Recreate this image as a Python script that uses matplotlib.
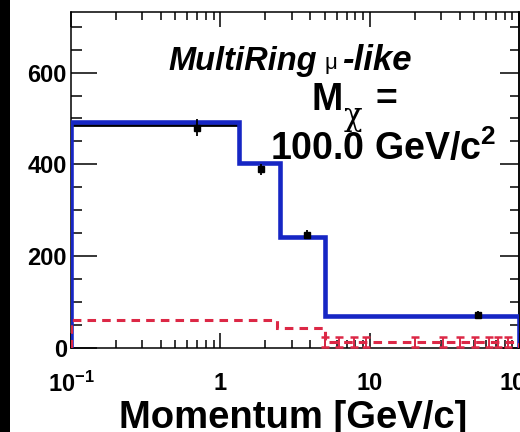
import matplotlib
matplotlib.use("Agg")
import matplotlib.pyplot as plt
from matplotlib.patches import Rectangle
from matplotlib.ticker import FixedLocator, LogLocator, MultipleLocator, NullFormatter

plt.rcParams['font.family'] = ['Liberation Sans', 'DejaVu Sans']
plt.rcParams['mathtext.fontset'] = 'custom'
plt.rcParams['mathtext.rm'] = 'Liberation Sans:bold'
plt.rcParams['mathtext.bf'] = 'Liberation Sans:bold'
plt.rcParams['mathtext.it'] = 'Liberation Sans:italic:bold'

# ---- data ----
bin_edges = [0.1, 1.33, 2.5, 5.0, 100.0]
blue_total = [493, 403, 242, 70]
black_bkg = [486, 403, 241, 69]
red_signal = [60, 44, 13]
red_edges = [0.1, 2.4, 5.0, 100.0]
data_x = [0.70, 1.88, 3.8, 53.0]
data_y = [480, 389, 247, 72]
data_err = [18, 12, 10, 8]
red_err_x = [5.0, 6.2, 7.8, 9.4, 20.0, 31.0, 40.0, 51.0, 63.0, 72.0, 84.0]
red_err_y = [13, 13, 13, 13, 13, 13, 13, 13, 13, 13, 13]
red_err = [10, 10, 10, 10, 10, 10, 10, 10, 10, 10, 10]
xtick_vals = [0.1, 1, 10, 100]
xtick_labels = [r'10$^{-1}$', '1', '10', '100']
ytick_vals = [0, 200, 400, 600]
ytick_labels = ['0', '200', '400', '600']

W, H = 520, 432
fig = plt.figure(figsize=(W / 100, H / 100), dpi=100)
fig.patch.set_facecolor('white')
fig.patches.append(Rectangle((0, 0), 10 / W, 1, transform=fig.transFigure,
                             facecolor='black', edgecolor='none', zorder=0))

ax = fig.add_axes([71 / W, 84 / H, 448 / W, 336 / H])
ax.set_xscale('log')
ax.set_xlim(0.1, 100)
ax.set_ylim(0, 732)

blue = '#1626c4'
red = '#dc2846'

ax.stairs(black_bkg, bin_edges, baseline=0, color='black', linewidth=2.0, zorder=2)
ax.stairs(blue_total, bin_edges, baseline=0, color=blue, linewidth=3.3, zorder=3)
ax.stairs(red_signal, red_edges, baseline=0, color=red, linewidth=2.2,
          linestyle=(0, (2.8, 2.0)), zorder=4)
ax.errorbar(red_err_x, red_err_y, yerr=red_err, fmt='none', ecolor=red,
            elinewidth=1.4, capsize=3, capthick=1.8, zorder=4)
ax.errorbar(data_x, data_y, yerr=data_err, fmt='s', color='black', markersize=4,
            elinewidth=1.3, capsize=0, zorder=5)

# ticks
ax.xaxis.set_major_locator(FixedLocator(xtick_vals))
ax.set_xticklabels(xtick_labels)
ax.xaxis.set_minor_locator(LogLocator(base=10, subs=range(2, 10), numticks=20))
ax.xaxis.set_minor_formatter(NullFormatter())
ax.set_yticks(ytick_vals)
ax.set_yticklabels(ytick_labels)
ax.yaxis.set_minor_locator(MultipleLocator(50))

ax.tick_params(axis='x', which='major', direction='in', top=True, length=11,
               width=1.1, pad=17, labelsize=17)
ax.tick_params(axis='x', which='minor', direction='in', top=True, length=5.5, width=1.1)
ax.tick_params(axis='y', which='major', direction='in', right=False, length=18.5,
               width=1.1, pad=3, labelsize=17)
ax.tick_params(axis='y', which='minor', direction='in', right=False, length=8, width=1.1)
for lab in ax.get_xticklabels() + ax.get_yticklabels():
    lab.set_fontweight('bold')

sec = ax.secondary_yaxis('right')
sec.set_yticks(ytick_vals)
sec.yaxis.set_minor_locator(MultipleLocator(50))
sec.tick_params(axis='y', which='major', direction='in', length=13.5, width=1.1, labelright=False)
sec.tick_params(axis='y', which='minor', direction='in', length=6.5, width=1.1)
sec.spines['right'].set_linewidth(1.1)

for sp in ax.spines.values():
    sp.set_linewidth(1.1)


def ax_xy(px, py):
    # convert reference pixel coordinates (from top-left) to axes fraction
    return (px - 71) / 448, (348 - py) / 336


# texts
x0, yb = ax_xy(168, 70)
ax.text(x0, yb, 'MultiRing', transform=ax.transAxes, ha='left', va='baseline',
        fontsize=23.5, fontweight='bold', fontstyle='italic')
xm, ym = ax_xy(324, 69)
ax.text(xm, ym, 'μ', transform=ax.transAxes, ha='left', va='baseline',
        fontsize=16, fontweight='normal')
xl, yl = ax_xy(342, 70)
ax.text(xl, yl, '-like', transform=ax.transAxes, ha='left', va='baseline',
        fontsize=25, fontweight='bold', fontstyle='italic')

x1, y1 = ax_xy(327, 110)
ax.text(x1, y1, 'M', transform=ax.transAxes, ha='center', va='baseline',
        fontsize=27, fontweight='bold')
x2, y2 = ax_xy(353, 125)
ax.text(x2, y2, 'χ', transform=ax.transAxes, ha='center', va='baseline',
        fontsize=22, fontweight='normal', family='DejaVu Serif')
x3, y3 = ax_xy(386, 110)
ax.text(x3, y3, '=', transform=ax.transAxes, ha='center', va='baseline',
        fontsize=27, fontweight='bold')
x4, y4 = ax_xy(270, 160)
ax.text(x4, y4, r'100.0 GeV/c$^{2}$', transform=ax.transAxes, ha='left',
        va='baseline', fontsize=27, fontweight='bold')

x5, y5 = ax_xy(293, 428)
ax.text(x5, y5, 'Momentum [GeV/c]', transform=ax.transAxes, ha='center',
        va='baseline', fontsize=27.5, fontweight='bold')

fig.savefig('out.png', dpi=100)
